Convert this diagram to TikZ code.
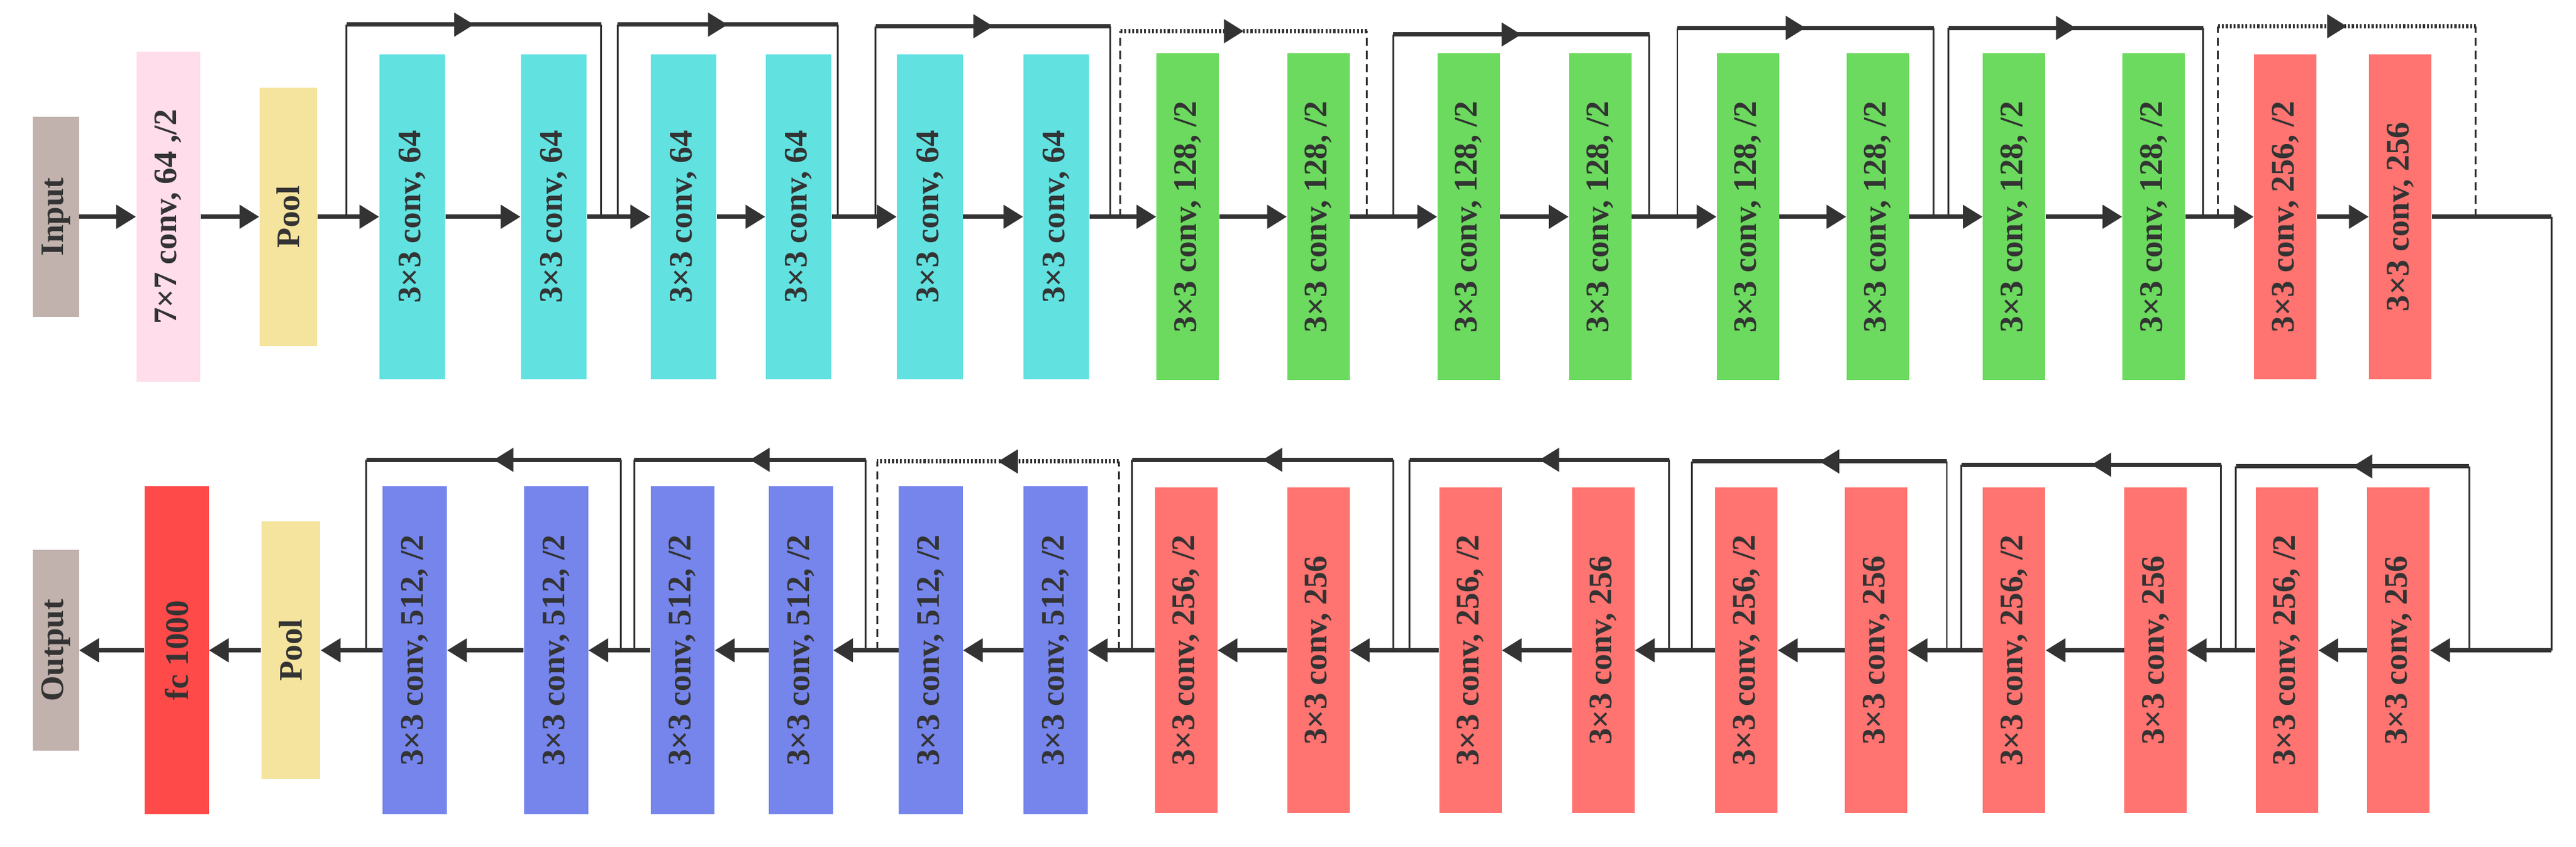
\documentclass[tikz,border=0pt]{standalone}
\usepackage{fontspec}
\setmainfont{Liberation Serif}
\usetikzlibrary{arrows.meta,decorations.markings}
\definecolor{cin}{HTML}{C2B2AE}
\definecolor{cpink}{HTML}{FFDDEB}
\definecolor{cpool}{HTML}{F5E49E}
\definecolor{ccyan}{HTML}{62E1E1}
\definecolor{cgreen}{HTML}{6BDA5E}
\definecolor{cred}{HTML}{FF7370}
\definecolor{cblue}{HTML}{7585EC}
\definecolor{cfc}{HTML}{FF4A4A}
\definecolor{cline}{HTML}{333333}
\tikzset{
  blk/.style={draw=none,rotate=90,inner sep=0pt,font=\fontsize{20}{24}\selectfont\bfseries,text=cline},
  arr/.style={draw=cline,line width=2.6pt,-{Triangle[length=12pt,width=14pt]}},
  vline/.style={draw=cline,line width=1.1pt},
  hline/.style={draw=cline,line width=2.6pt},
  vdash/.style={vline,dash pattern=on 5pt off 3pt},
  hdot/.style={draw=cline,line width=2.6pt,dash pattern=on 1.2pt off 1.2pt},
  midarr/.style={postaction={decorate},decoration={markings,mark=at position 0.5 with {\arrow[cline,solid]{Triangle[length=12pt,width=14pt]}}}},
}
% \blkN{name}{x}{y}{w}{h}{colour}{text}
\newcommand\blkN[7]{\node[blk,fill=#6,minimum width=#5pt,minimum height=#4pt] (#1) at (#2,#3) {#7};}
% \skT{name}{xa}{xb}{ytop}{vstyle}{hstyle}
\newcommand\skT[6]{%
 \coordinate (#1a) at (#2,132); \coordinate (#1b) at (#3,132);
 \coordinate (#1c) at (#2,#4); \coordinate (#1d) at (#3,#4);
 \draw[#5] (#1a)--(#1c); \draw[#5] (#1b)--(#1d);
 \draw[#6,midarr] (#1c)--(#1d);}
\newcommand\skB[6]{%
 \coordinate (#1a) at (#2,396); \coordinate (#1b) at (#3,396);
 \coordinate (#1c) at (#2,#4); \coordinate (#1d) at (#3,#4);
 \draw[#5] (#1a)--(#1c); \draw[#5] (#1b)--(#1d);
 \draw[#6,midarr] (#1d)--(#1c);}
\begin{document}
\begin{tikzpicture}[x=1pt,y=-1pt]
\useasboundingbox[fill=white] (0,0) rectangle (1568,515.4);
% top row
\blkN{inp}{34}{132}{28}{122}{cin}{Input}
\blkN{c7}{102.5}{132}{39}{201}{cpink}{7×7 conv, 64 ,/2}
\blkN{p1}{175.5}{132}{35}{157}{cpool}{Pool}
\foreach \x [count=\i] in {251,337,416,486,566,643}{\blkN{t\i}{\x}{132}{40}{198}{ccyan}{3×3 conv, 64}}
\foreach \x [count=\i from 7] in {723,802.5,894,974,1064,1143,1226,1311}{\blkN{t\i}{\x}{132}{38}{199}{cgreen}{3×3 conv, 128, /2}}
\blkN{t15}{1391}{132}{38}{198}{cred}{3×3 conv, 256, /2}
\blkN{t16}{1461}{132}{38}{198}{cred}{3×3 conv, 256}
\draw[arr] (inp.south)--(c7.north);
\draw[arr] (c7.south)--(p1.north);
\draw[arr] (p1.south)--(t1.north);
\foreach \i [evaluate=\i as \j using int(\i+1)] in {1,...,15}{\draw[arr] (t\i.south)--(t\j.north);}
% bottom row
\blkN{out}{34}{396}{28}{122}{cin}{Output}
\blkN{fc}{107.5}{396}{39}{200}{cfc}{fc 1000}
\blkN{p2}{177}{396}{36}{157}{cpool}{Pool}
\foreach \x [count=\i] in {252.5,338.5,415.5,487.5,566.5,642.5}{\blkN{b\i}{\x}{396}{39}{200}{cblue}{3×3 conv, 512, /2}}
\blkN{b7}{722}{396}{38}{198}{cred}{3×3 conv, 256, /2}
\blkN{b8}{802.5}{396}{38}{198}{cred}{3×3 conv, 256}
\blkN{b9}{895}{396}{38}{198}{cred}{3×3 conv, 256, /2}
\blkN{b10}{976}{396}{38}{198}{cred}{3×3 conv, 256}
\blkN{b11}{1063}{396}{38}{198}{cred}{3×3 conv, 256, /2}
\blkN{b12}{1142}{396}{38}{198}{cred}{3×3 conv, 256}
\blkN{b13}{1226}{396}{38}{198}{cred}{3×3 conv, 256, /2}
\blkN{b14}{1312}{396}{38}{198}{cred}{3×3 conv, 256}
\blkN{b15}{1392}{396}{38}{198}{cred}{3×3 conv, 256, /2}
\blkN{b16}{1460}{396}{38}{198}{cred}{3×3 conv, 256}
\draw[arr] (fc.north)--(out.south);
\draw[arr] (p2.north)--(fc.south);
\draw[arr] (b1.north)--(p2.south);
\foreach \i [evaluate=\i as \j using int(\i+1)] in {1,...,15}{\draw[arr] (b\j.north)--(b\i.south);}
% loop between rows
\coordinate (lr1) at (1553,132);
\coordinate (lr2) at (1553,396);
\draw[hline] (t16.south)--(lr1);
\draw[vline] (lr1)--(lr2);
\draw[arr] (lr2)--(b16.south);
% top skips
\skT{sa}{211}{366}{15}{vline}{hline}
\skT{sb}{376}{510}{15}{vline}{hline}
\skT{sc}{533}{676}{16}{vline}{hline}
\skT{sd}{682}{832}{19}{vdash}{hdot}
\skT{se}{848}{1004}{21}{vline}{hline}
\skT{sf}{1021}{1177}{17}{vline}{hline}
\skT{sg}{1186}{1341}{17}{vline}{hline}
\skT{sh}{1350}{1507}{16}{vdash}{hdot}
% bottom skips
\skB{ra}{223}{378}{280}{vline}{hline}
\skB{rb}{386}{527}{280}{vline}{hline}
\skB{rc}{534}{681}{281}{vdash}{hdot}
\skB{rd}{689}{848}{280}{vline}{hline}
\skB{re}{858}{1016}{280}{vline}{hline}
\skB{rf}{1030}{1185}{281}{vline}{hline}
\skB{rg}{1194}{1352}{283}{vline}{hline}
\skB{rh}{1361}{1503}{284}{vline}{hline}
\end{tikzpicture}
\end{document}
